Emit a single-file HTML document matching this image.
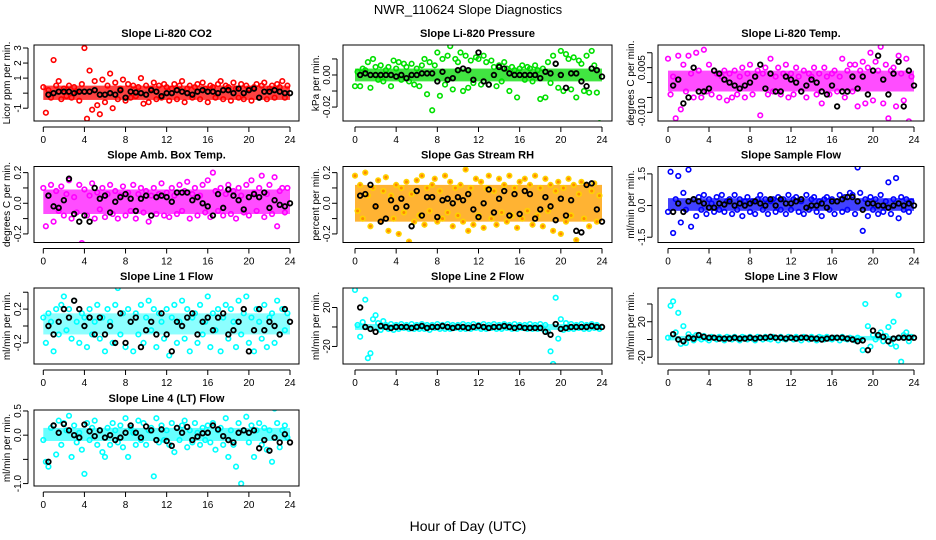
<!DOCTYPE html>
<html><head><meta charset="utf-8"><style>
html,body{margin:0;padding:0;background:#fff}
svg{display:block;font-family:"Liberation Sans",sans-serif}
</style></head><body>
<svg id="fig" width="936" height="540" viewBox="0 0 936 540">
<text x="468" y="14" text-anchor="middle" font-size="13">NWR_110624  Slope Diagnostics</text>
<text x="468" y="531" text-anchor="middle" font-size="14">Hour of Day (UTC)</text>
</svg>
<script>
const xTicks=[0,4,8,12,16,20,24];
const titles=["Slope Li-820 CO2","Slope Li-820 Pressure","Slope Li-820 Temp.","Slope Amb. Box Temp.","Slope Gas Stream RH","Slope Sample Flow","Slope Line 1 Flow","Slope Line 2 Flow","Slope Line 3 Flow","Slope Line 4 (LT) Flow"];
const yLabels=["Licor ppm per min.","kPa per min.","degrees C per min.","degrees C per min.","percent per min.","ml/min per min.","ml/min per min.","ml/min per min.","ml/min per min.","ml/min per min."];
const yRanges=[[-1.85,3.2],[-0.0287,0.0187],[-0.0129,0.0126],[-0.256,0.24],[-0.256,0.24],[-1.75,1.85],[-0.45,0.45],[-38,40],[-27.6,58],[-1.05,0.52]];
const yTickVals=[[-1,0,1,2,3],[-0.02,-0.01,0,0.01],[-0.01,-0.005,0,0.005,0.01],[-0.2,-0.1,0,0.1,0.2],[-0.2,-0.1,0,0.1,0.2],[-1.5,0,1.5],[-0.2,0,0.2,0.4],[-20,0,20],[-20,0,20,40],[-1,-0.5,0,0.5]];
const yTickLabels=[["-1","","1","2","3"],["-0.02","","0.00",""],["-0.010","","","0.005",""],["-0.2","","0.0","","0.2"],["-0.2","","0.0","","0.2"],["-1.5","0.0","1.5"],["-0.2","","0.2",""],["-20","","20"],["-20","","20",""],["-1.0","","0.0","0.5"]];
const coreLo=[-0.45,-0.004,-0.003,-0.07,-0.12,-0.25,-0.1,-3,-1,-0.12];
const coreHi=[0.5,0.004,0.004,0.09,0.12,0.35,0.15,3,4,0.15];
const colors=["#ff0000","#00e000","#ff00ff","#ff00ff","#ffd200","#0000ff","#00ffff","#00ffff","#00ffff","#00ffff"];
const coreColors=["#ff2020","#20e020","#ff20ff","#ff20ff","#ffa000","#2020ff","#40ffff","#40ffff","#40ffff","#40ffff"];
const coreOpacity=[0.85,0.85,0.8,0.8,0.8,0.85,0.6,0.85,0.85,0.8];

const co2=[0.4,-1.3,0.2,-0.3,2.2,0.5,0.8,-0.4,0.3,-0.2,0.5,-0.3,0.4,0.1,-0.5,0.6,3.0,-1.7,1.5,-1.1,0.8,-0.8,-1.4,0.9,
-0.6,0.5,1.3,-1.0,0.7,-0.4,0.3,0.9,-0.5,0.6,-0.3,0.5,-0.2,0.4,1.0,-0.7,0.5,-0.6,0.3,0.7,-0.4,0.5,-0.3,0.6,
0.4,-0.5,0.3,0.6,-0.4,0.5,0.8,-0.6,0.3,0.5,-0.3,0.4,0.6,-0.4,0.7,0.3,-0.6,0.5,0.4,-0.3,0.6,0.8,-0.4,0.5,
0.4,-0.5,0.7,0.3,-0.3,0.6,-0.4,0.5,0.3,-0.5,0.4,0.6,-0.3,0.5,0.7,-0.4,0.3,0.5,-0.3,0.6,0.4,0.8,-0.3,0.5];
const co2Avg=[-0.1,0,0.1,0.1,0.1,0,0.1,0.1,0.1,0.2,-0.1,-0.1,0,-0.1,0.2,-0.3,0.1,0.05,0,-0.1,0.2,0.1,-0.2,0,0,0.2,0.1,0,-0.1,0.1,0.2,0.1,0.1,0,0.2,0.2,0,0.3,0,0.2,0.3,-0.3,0.1,0.1,0.2,0.1,0,0];
const pres=[-0.007,0.002,-0.007,0.004,0.003,0.008,-0.008,0.010,0.005,-0.003,0.006,-0.004,0.003,0.005,-0.007,0.009,0.004,0.008,-0.003,0.007,0.005,-0.004,0.007,-0.006,
0.004,-0.007,0.006,0.010,-0.012,0.008,-0.022,0.006,0.014,-0.013,0.010,-0.006,0.012,0.018,-0.009,0.010,0.008,0.014,-0.010,0.012,-0.008,0.009,-0.005,0.011,
0.010,-0.006,0.012,0.008,-0.006,0.009,0.005,-0.007,0.006,-0.004,0.008,0.004,-0.010,0.005,0.003,-0.014,0.004,0.006,-0.003,0.005,0.004,-0.004,0.006,0.003,
-0.015,0.004,-0.014,0.008,-0.005,0.012,0.007,-0.008,0.015,-0.010,0.013,0.010,-0.009,0.011,-0.014,0.009,0.007,-0.010,0.012,-0.011,0.015,0.006,-0.011,-0.030];
const presAvg=[0,0.001,0,0,0,0,0,-0.001,0,-0.002,0,0,0.001,0.001,0.001,-0.004,0.002,-0.003,-0.002,0.003,0.004,0.003,-0.003,0.014,-0.004,-0.006,0,0.005,0.004,0.001,0,0,0,0,0,-0.002,0.002,0.001,0.007,0,-0.008,0.001,0.001,-0.004,-0.007,0.004,0.003,-0.001];
const temp=[0.008,-0.004,0.002,-0.012,0.009,-0.009,0.006,-0.003,0.009,0.003,-0.005,0.010,0.004,-0.005,0.011,-0.003,0.006,-0.004,0.004,0.003,-0.005,0.002,0.004,-0.006,
0.003,-0.005,0.004,-0.004,0.002,0.005,-0.005,0.003,0.006,-0.004,0.002,0.004,-0.011,0.003,0.005,-0.004,0.008,-0.003,0.002,0.005,-0.004,0.003,0.006,-0.005,
0.003,-0.004,0.005,0.002,-0.003,0.004,-0.005,0.003,0.002,0.005,-0.004,0.003,-0.007,0.005,0.002,-0.004,0.003,0.004,-0.003,0.002,0.008,-0.005,0.004,0.006,
-0.003,0.006,-0.008,0.004,0.007,-0.007,0.005,0.010,-0.006,0.007,0.004,0.012,-0.007,0.006,-0.012,0.004,0.005,-0.008,0.009,0.003,-0.006,0.008,-0.013,0.002];
const tempAvg=[-0.001,0.001,-0.007,-0.005,0.005,-0.003,-0.003,-0.002,0.004,0.003,0.001,0,-0.001,-0.002,-0.001,0,0.002,0.006,-0.002,0.003,-0.003,-0.003,0.002,0.001,0,-0.003,-0.001,0.001,0,-0.003,-0.004,-0.001,-0.008,-0.003,-0.003,0.002,-0.002,0.002,-0.004,0.004,0.009,0.001,-0.004,0.003,0.007,-0.008,0.004,-0.001];
const amb=[0.1,-0.15,0.05,0.12,-0.12,0.08,-0.05,0.11,-0.08,0.06,0.15,-0.1,0.04,-0.06,0.12,-0.26,0.09,-0.08,0.05,0.13,-0.1,0.07,-0.04,0.1,
-0.09,0.06,0.12,-0.07,0.08,-0.1,0.05,0.11,-0.08,0.07,-0.05,0.12,-0.1,0.06,0.1,-0.06,0.08,-0.12,0.05,0.1,-0.07,0.06,0.13,-0.08,
0.07,-0.09,0.1,0.05,-0.07,0.12,-0.05,0.08,0.14,-0.1,0.06,0.1,-0.08,0.05,0.12,-0.06,0.15,-0.09,0.2,0.08,-0.05,0.1,-0.08,0.06,
0.12,-0.07,0.08,-0.1,0.1,0.05,-0.06,0.12,-0.08,0.15,0.07,-0.05,0.1,0.18,-0.09,0.06,0.12,-0.07,0.17,-0.15,0.08,0.1,-0.06,0.1];
const ambAvg=[0.05,-0.02,-0.03,0.02,0.16,-0.07,-0.12,-0.08,-0.12,0.1,0.03,0.05,-0.06,0.01,0.04,0.06,0.03,-0.05,0.03,0.05,-0.08,0.04,0.05,0.04,0.01,0.07,0.07,0.07,0.02,0.04,0,-0.02,-0.08,0.06,-0.03,0.09,0.05,0.02,-0.04,0.04,0.06,0.04,0.07,-0.03,0.02,-0.01,-0.02,0];
const rh=[0.18,-0.05,0.12,-0.1,0.2,0.05,-0.15,0.1,-0.02,0.15,-0.12,0.08,0.17,-0.18,0.05,-0.1,0.12,-0.2,0.1,-0.06,0.14,-0.25,0.06,-0.12,
0.15,-0.08,0.18,-0.14,0.1,-0.05,0.12,0.16,-0.12,0.08,-0.1,0.18,-0.06,0.14,-0.15,0.1,-0.08,0.12,-0.12,0.22,-0.18,0.1,-0.14,0.16,
-0.08,0.14,-0.16,0.1,0.18,-0.1,0.08,-0.14,0.16,-0.06,0.12,-0.12,0.18,-0.08,0.1,-0.16,0.14,-0.1,0.16,-0.05,0.12,-0.14,0.18,-0.08,
0.1,-0.15,0.16,-0.05,0.12,-0.18,0.08,0.14,-0.2,0.1,-0.12,0.16,-0.08,0.12,-0.24,0.06,0.14,-0.1,0.12,-0.15,0.08,0.13,-0.12,0.05];
const rhAvg=[0.05,0.06,0.12,-0.02,-0.12,-0.1,0.02,-0.03,0.03,-0.02,-0.15,0.08,-0.08,0.04,0.04,-0.09,0.02,0.03,0,0.04,0.02,0.06,-0.04,-0.09,0,0.09,-0.06,0.03,0.08,-0.08,0.06,-0.07,0.08,0.06,-0.1,-0.04,0.04,-0.02,-0.11,0.03,-0.08,0.02,-0.18,-0.19,0.12,0.13,-0.04,-0.12];
const sflow=[-0.3,1.6,-1.3,0.3,1.4,-0.8,0.6,-0.2,1.7,-1.0,0.3,-0.5,0.4,-0.2,0.5,-0.4,0.3,0.1,-0.3,0.4,-0.2,0.5,-0.3,0.2,
0.3,-0.4,0.5,-0.2,0.3,-0.5,0.2,0.4,-0.3,0.2,-0.4,0.3,0.5,-0.2,0.3,-0.4,0.2,0.3,-0.3,0.4,-0.2,0.3,-0.4,0.5,
-0.2,0.3,0.4,-0.3,0.2,-0.4,0.5,-0.2,0.3,0.4,-0.3,0.2,-0.5,0.3,0.4,-0.2,0.3,-0.4,0.2,0.5,-0.3,0.4,-0.2,0.6,
0.5,-0.4,1.8,0.6,-1.2,0.3,-0.5,0.4,-0.2,0.3,-0.4,0.5,-0.3,0.2,1.1,-0.4,0.3,1.3,-0.6,0.4,-0.2,0.3,-0.3,0.2];
const sflowAvg=[-0.3,0.1,-0.3,0.2,0.3,0.2,0.1,-0.1,-0.1,0.1,0.05,0.2,0,0.1,0,0.1,0.2,0.1,0,0.3,0,0.3,0.1,0.1,0.2,0.3,-0.1,0,0,0.1,-0.1,0.2,0.2,0.3,0.4,0.4,0.2,-0.2,0.1,0.1,0,0,-0.1,0,0.1,0,0.1,0];
const line1=[0.1,-0.2,0.15,0.05,-0.3,0.2,-0.1,0.25,0.35,-0.05,0.2,-0.15,0.3,0.05,-0.2,0.15,0.1,-0.25,0.2,-0.1,0.05,0.25,-0.15,0.1,
-0.3,0.2,0.05,-0.2,0.25,0.45,-0.1,0.15,-0.25,0.2,0.05,-0.3,0.15,-0.1,0.25,-0.2,0.1,0.3,-0.05,0.2,-0.25,0.15,0.05,-0.15,
0.2,-0.35,0.1,0.25,-0.2,0.05,0.3,-0.15,0.2,-0.3,0.1,0.15,-0.2,0.25,-0.1,0.05,0.35,-0.25,0.15,-0.05,0.2,-0.3,0.1,0.25,
-0.15,0.2,0.05,-0.25,0.3,-0.1,0.15,0.35,-0.2,0.1,-0.3,0.2,0.05,-0.15,0.25,-0.25,0.1,0.15,-0.2,0.3,-0.1,0.2,-0.05,0.15];
const line1Avg=[0,-0.1,0.05,0.2,0.1,0.3,0.2,0,0.1,-0.1,0.1,-0.1,0,-0.2,0.15,-0.2,0.05,0.1,-0.25,-0.05,0.05,-0.1,0.15,-0.1,-0.3,0.05,0,0.1,0.15,-0.1,0.05,0.1,-0.05,0.1,0.15,-0.1,-0.05,0.05,0.2,-0.3,-0.05,0.2,-0.05,0.05,0,-0.1,0.2,0.05];
const line2=[38,2,-10,5,28,-32,-27,8,12,4,-3,6,2,-2,3,-3,2,-2,3,-1,2,-2,3,-2,
2,-2,3,-2,2,-3,2,-1,3,-2,2,-2,3,-2,2,-1,2,-2,3,-2,2,-2,3,-1,
2,-2,3,-2,2,-1,3,-2,2,-2,3,-1,2,-2,3,-2,2,-1,2,-2,3,-2,2,-2,
3,-2,2,-5,-25,-38,30,-12,8,-3,4,-2,3,-2,2,-1,3,-2,2,-2,3,-1,2,-2];
const line2Avg=[20,0,-2,-5,1,0,-1,0,0,0,-1,0,1,-1,0,0,1,0,-1,0,0,-1,0,1,0,-1,0,0,1,0,-1,0,-1,-1,-1,-1,-5,-8,3,-2,-1,0,0,0,0,1,0,0];
const line3=[2,38,43,8,30,-5,15,-4,6,3,-1,5,2,0,4,1,-1,3,2,0,3,1,-1,3,
2,0,3,1,-1,3,2,0,3,1,-1,3,2,0,3,1,0,3,2,-1,3,1,0,3,
2,0,3,1,-1,3,2,0,3,1,-1,3,2,0,3,1,0,2,2,-1,3,1,0,2,
1,-1,2,0,-12,40,15,-8,5,0,3,8,-2,4,14,-5,20,-8,50,-25,5,8,-2,3];
const line3Avg=[6,0,-2,2,1,5,3,2,2,1,1,1,2,1,1,2,1,2,2,3,2,2,1,2,1,2,2,1,1,0,1,2,2,2,1,0,-2,-1,-12,10,5,3,-2,1,2,2,2,2];
const line4=[-0.1,-0.55,-0.65,0.15,0.2,-0.4,0.3,-0.2,0.25,0.1,0.4,-0.45,0.2,-0.15,0.05,-0.3,-0.8,0.25,-0.1,0.15,0.3,-0.2,0.1,-0.35,
-0.45,0.15,-0.2,0.25,0.1,-0.15,0.2,-0.25,0.35,-0.45,0.15,0.05,-0.2,0.3,-0.1,0.25,-0.2,0.1,0.15,-0.85,0.35,-0.15,0.2,-0.1,
0.1,-0.2,0.25,-0.35,0.15,-0.1,0.2,0.3,-0.25,0.1,-0.15,0.25,0.05,-0.2,0.15,-0.1,0.2,-0.15,0.25,-0.3,0.1,0.15,-0.2,0.35,
-0.45,0.1,-0.2,-0.65,0.25,-1.0,0.1,0.38,-0.15,0.2,-0.45,0.1,0.25,-0.2,0.15,-0.3,0.1,-0.55,0.55,0.25,-0.25,0.1,0.2,-0.05];
const line4Avg=[-0.55,0.2,0.05,0.23,0.1,0,-0.05,0.22,0.08,-0.02,0.1,-0.05,0,-0.1,-0.05,0.05,0.2,0.05,-0.05,0.18,0.1,-0.1,0.12,-0.12,-0.22,0.15,0.05,0.17,-0.1,-0.03,0.04,0.05,0.2,0.12,-0.02,-0.1,-0.15,0.05,0.1,0.05,0.1,-0.27,-0.1,-0.32,-0.05,-0.15,0.02,-0.15];

const rawSeries=[co2,pres,temp,amb,rh,sflow,line1,line2,line3,line4];
const avgSeries=[co2Avg,presAvg,tempAvg,ambAvg,rhAvg,sflowAvg,line1Avg,line2Avg,line3Avg,line4Avg];

const NS="http://www.w3.org/2000/svg";
const svg=document.getElementById('fig');
const colBox=[[34,299,43.3,290],[343,612,355,602],[658,924,668,914]];
const rowTop=[45,166.5,288,410],boxH=76;
function mk(t,a,p){const e=document.createElementNS(NS,t);for(const k in a)e.setAttribute(k,a[k]);(p||svg).appendChild(e);return e;}

for(let p=0;p<10;p++){
  const c=colBox[p%3],top=rowTop[Math.floor(p/3)],bot=top+boxH;
  const [y0,y1]=yRanges[p];
  const xs=h=>c[2]+(c[3]-c[2])*h/24;
  const ys=v=>bot-(v-y0)/(y1-y0)*boxH;
  const g=mk('g',{});
  
  
  const clipId='clip'+p;
  const cp=mk('clipPath',{id:clipId},g);mk('rect',{x:c[0],y:top,width:c[1]-c[0],height:boxH},cp);
  const title=mk('text',{x:(c[0]+c[1])/2,y:top-8,'text-anchor':'middle','font-size':11,'font-weight':'bold'},g);
  title.textContent=titles[p];
  
  
  const yl=mk('text',{x:0,y:0,'text-anchor':'middle','font-size':10,transform:`translate(${c[0]-24},${(top+bot)/2}) rotate(-90)`},g);
  yl.textContent=yLabels[p];
  
  
  const marks=mk('g',{'clip-path':`url(#${clipId})`},g);
  
  
  const core=mk('rect',{x:c[2],y:ys(coreHi[p]),width:c[3]-c[2],height:ys(coreLo[p])-ys(coreHi[p]),fill:coreColors[p],opacity:coreOpacity[p]},marks);
  
  
  const raw=rawSeries[p];
  raw.forEach((v,i)=>{
    const ci=mk('circle',{cx:xs(i*24/raw.length),cy:ys(v),r:2.3,fill:p==4?'#ff8a00':'none',stroke:colors[p],'stroke-width':1.6},marks);
    
    
  });
  const avg=avgSeries[p];
  avg.forEach((v,i)=>{
    const ci=mk('circle',{cx:xs((i+1)*24/avg.length),cy:ys(v),r:2.3,fill:'none',stroke:'#000','stroke-width':1.8},marks);
    
    
  });
  const box=mk('rect',{x:c[0],y:top,width:c[1]-c[0],height:boxH,fill:'none',stroke:'#000','stroke-width':1},g);
  
  
  mk('line',{x1:xs(0),x2:xs(24),y1:bot+6,y2:bot+6,stroke:'#000'},g);
  xTicks.forEach(t=>{
    mk('line',{x1:xs(t),x2:xs(t),y1:bot+6,y2:bot+11,stroke:'#000'},g);
    const tx=mk('text',{x:xs(t),y:bot+22,'text-anchor':'middle','font-size':10},g);
    tx.textContent=t;
    
    
  });
  const tv=yTickVals[p];
  mk('line',{x1:c[0]-6,x2:c[0]-6,y1:ys(tv[0]),y2:ys(tv[tv.length-1]),stroke:'#000'},g);
  tv.forEach((t,i)=>{
    mk('line',{x1:c[0]-6,x2:c[0]-11,y1:ys(t),y2:ys(t),stroke:'#000'},g);
    if(yTickLabels[p][i]){
      const tx=mk('text',{x:0,y:0,'text-anchor':'middle','font-size':10,transform:`translate(${c[0]-13},${ys(t)}) rotate(-90)`},g);
      tx.textContent=yTickLabels[p][i];
      
      
    }
  });
}
</script>
</body></html>
